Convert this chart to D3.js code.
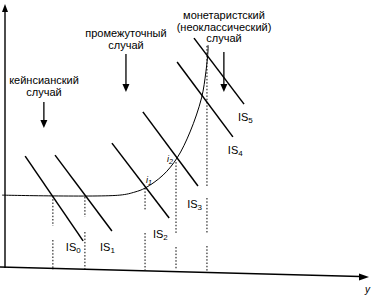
<!DOCTYPE html>
<html><head><meta charset="utf-8">
<script src="https://cdn.jsdelivr.net/npm/d3@7"></script>
<style>
html,body{margin:0;padding:0;background:#fff;}
svg{display:block;}
text{font-family:"Liberation Sans",Arial,sans-serif;fill:#000;}
</style></head>
<body><div id="chart"></div>
<script>
// IS curves (schematic units: income 0..100, interest rate 0..100)
const isNames = ["IS","IS","IS","IS","IS","IS"];
const isSubs  = ["0","1","2","3","4","5"];
const isStartY = [5.6, 13.9, 29.7, 38.3, 47.8, 52.5];
const isStartI = [43.8, 44.2, 48.8, 60.8, 80.0, 89.2];
const isEndY   = [21.7, 29.7, 45.6, 53.6, 63.3, 66.4];
const isEndI   = [11.2, 15.0, 20.0, 32.3, 51.2, 63.8];
const isLabelY = [16.9, 26.4, 41.1, 50.6, 61.9, 64.7];
const isLabelI = [7.3, 7.3, 12.3, 23.8, 44.6, 57.3];
// LM curve
const lmY = [-0.8, 31.9, 36.1, 38.9, 43.9, 47.8, 51.4, 54.6, 55.8, 56.4, 56.4];
const lmI = [28.8, 28.8, 30.0, 31.5, 36.5, 43.1, 53.1, 66.2, 76.2, 84.6, 86.5];
// equilibrium income levels (dotted guides)
const eqY = [13.3, 22.2, 38.9, 47.5, 56.1];
const eqTop = [28.5, 28.1, 31.5, 41.5, 86.2];
// case captions
const caseLines = [["кейнсианский","случай"],["промежуточный","случай"],["монетаристский","(неоклассический)","случай"]];
const caseX = [10.8, 33.6, 60.8];
const caseArrowTop = [64.6, 83.1, 83.8];
const caseArrowTip = [54.6, 68.5, 68.5];
const pointNames = ["i","i"];
const pointSubs = ["1","2"];
const pointY = [39.2, 45.0];
const pointI = [33.5, 41.5];

const W = 373, H = 297;
const x = d3.scaleLinear().domain([0,100]).range([5,365]);
const y = d3.scaleLinear().domain([0,100]).range([270,10]);

const svg = d3.select("#chart").append("svg").attr("width",W).attr("height",H);

// axes
svg.append("line").attr("x1",x(0)).attr("x2",x(0)).attr("y1",11).attr("y2",y(0)-2)
  .attr("stroke","#000").attr("stroke-width",1.4);
svg.append("path").attr("d",`M${x(0)},4 L${x(0)-3},12 L${x(0)+3},12 Z`).attr("fill","#000");
svg.append("line").attr("x1",0).attr("y1",267).attr("x2",360).attr("y2",276.5)
  .attr("stroke","#000").attr("stroke-width",1.4);
svg.append("path").attr("d","M369,277 L359,273.5 L359,280.5 Z").attr("fill","#000");
svg.append("text").attr("x",365).attr("y",293).attr("font-size",10).attr("font-style","italic").text("y");

// dotted guides
const gaps = [[226,240],[217,232],[210,233],[233,247],[187,198]];
eqY.forEach((v,i)=>{
  let segs = [[y(eqTop[i]), gaps[i][0]],[gaps[i][1], 270]];
  if(i===4){ segs = [[y(eqTop[i]),187],[198,233],[246,272]]; }
  segs.forEach(s=>{
    svg.append("line").attr("x1",x(v)).attr("x2",x(v)).attr("y1",s[0]).attr("y2",s[1])
      .attr("stroke","#000").attr("stroke-width",1).attr("stroke-dasharray","1.5,1.8");
  });
});

// LM curve
const lmPts = lmY.map((v,i)=>[x(v),y(lmI[i])]);
svg.append("path").attr("d",d3.line().curve(d3.curveCatmullRom.alpha(0.5))(lmPts))
  .attr("fill","none").attr("stroke","#000").attr("stroke-width",1);

// IS curves
isNames.forEach((n,i)=>{
  svg.append("line").attr("x1",x(isStartY[i])).attr("y1",y(isStartI[i]))
    .attr("x2",x(isEndY[i])).attr("y2",y(isEndI[i]))
    .attr("stroke","#000").attr("stroke-width",1.5);
  const t = svg.append("text").attr("x",x(isLabelY[i])).attr("y",y(isLabelI[i])).attr("font-size",11);
  t.append("tspan").text(n);
  t.append("tspan").attr("font-size",8).attr("dy",2).text(isSubs[i]);
});

// point labels
pointNames.forEach((n,i)=>{
  const t = svg.append("text").attr("x",x(pointY[i])).attr("y",y(pointI[i])).attr("font-size",9)
    .attr("font-style","italic");
  t.append("tspan").text(n);
  t.append("tspan").attr("font-size",7).attr("dy",2).text(pointSubs[i]);
});

// captions and arrows
const capBase = [[84,96],[37,49],[19,31,42]];
const capCenter = [44,126,224];
caseLines.forEach((lines,i)=>{
  const cx = x(caseX[i]);
  lines.forEach((s,j)=>{
    svg.append("text").attr("x", capCenter[i]).attr("y",capBase[i][j])
      .attr("text-anchor","middle").attr("font-size",11).text(s);
  });
  const top = y(caseArrowTop[i]), tip = y(caseArrowTip[i]);
  svg.append("line").attr("x1",cx).attr("x2",cx).attr("y1",top).attr("y2",tip-6)
    .attr("stroke","#000").attr("stroke-width",1.3);
  svg.append("path").attr("d",`M${cx},${tip} L${cx-3.5},${tip-8} L${cx+3.5},${tip-8} Z`).attr("fill","#000");
});
</script></body></html>
